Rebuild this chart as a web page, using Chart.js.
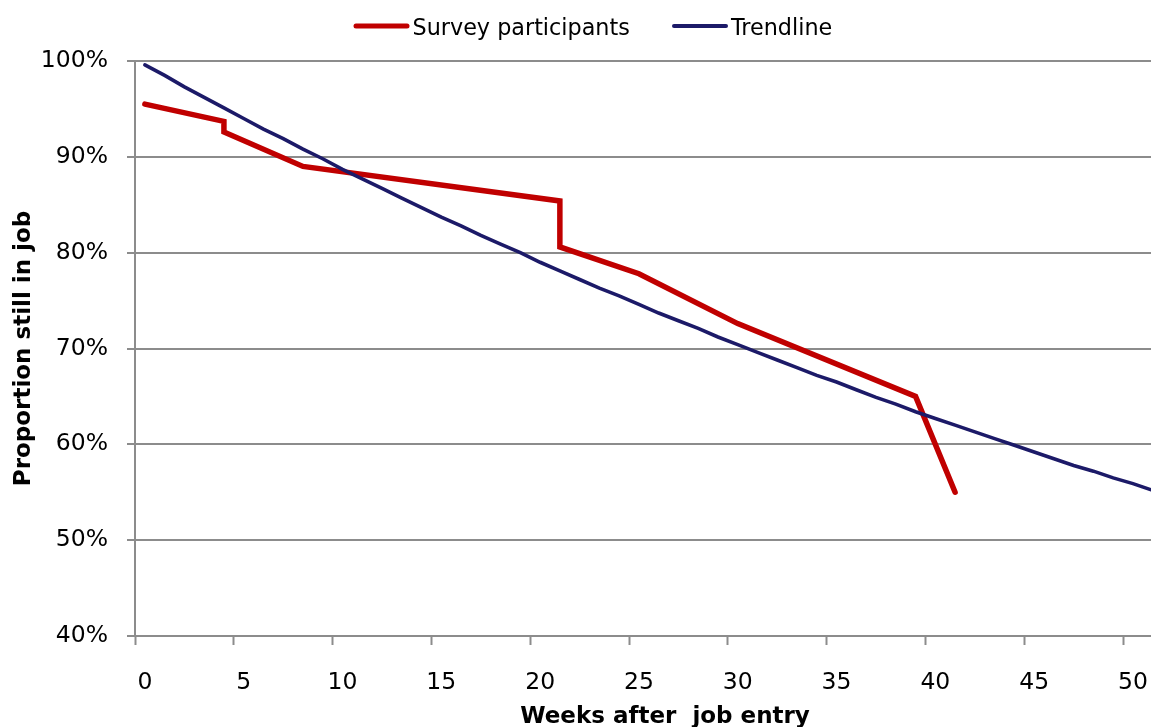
<!DOCTYPE html>
<html>
<head>
<meta charset="utf-8">
<title>Job retention</title>
<script src="https://cdn.jsdelivr.net/npm/chart.js@4/dist/chart.umd.min.js"></script>
<style>
  html, body { margin: 0; padding: 0; background: #fff; overflow: hidden; }
  #wrap { width: 1195px; height: 737px; }
</style>
</head>
<body>
<div id="wrap"><canvas id="c" width="1195" height="737"></canvas></div>
<script>
// Survey participants: weeks after job entry and share still in the job (%)
const surveyWeeks = [0, 4, 4, 8, 21, 21, 25, 30, 39, 41];
const surveyShare = [95.5, 93.7, 92.6, 89.0, 85.4, 80.6, 77.8, 72.6, 65.0, 55.0];

// Fitted trendline, one value per week
const trendWeeks = [0, 1, 2, 3, 4, 5, 6, 7, 8, 9, 10, 11, 12, 13, 14, 15, 16, 17, 18, 19, 20,
  21, 22, 23, 24, 25, 26, 27, 28, 29, 30, 31, 32, 33, 34, 35, 36, 37, 38, 39, 40,
  41, 42, 43, 44, 45, 46, 47, 48, 49, 50, 51, 52, 53];
const trendShare = [99.6, 98.5, 97.3, 96.2, 95.1, 94.0, 92.9, 91.9, 90.8, 89.8, 88.7,
  87.7, 86.7, 85.7, 84.7, 83.7, 82.8, 81.8, 80.9, 80.0, 79.0,
  78.1, 77.2, 76.3, 75.5, 74.6, 73.7, 72.9, 72.1, 71.2, 70.4,
  69.6, 68.8, 68.0, 67.2, 66.5, 65.7, 64.9, 64.2, 63.4, 62.7,
  62.0, 61.3, 60.6, 59.9, 59.2, 58.5, 57.8, 57.2, 56.5, 55.9, 55.2, 54.6, 54.0];

// Axis ticks
const weekLabels = [0, 5, 10, 15, 20, 25, 30, 35, 40, 45, 50];
const shareTicks = [40, 50, 60, 70, 80, 90, 100];

const seriesNames = ['Survey participants', 'Trendline'];
const seriesColors = ['#c00000', '#1c1a68'];

const FONT = "'DejaVu Sans', sans-serif";
const GRID = '#8c8c8c';

const toPoints = (xs, ys) => xs.map((x, i) => ({ x: x, y: ys[i] }));

// Legend drawn as line samples followed by the series names
const lineLegend = {
  id: 'lineLegend',
  afterDraw(chart) {
    const ctx = chart.ctx;
    const items = [
      { x0: 356, x1: 407, tx: 412.5, w: 5 },
      { x0: 674, x1: 726, tx: 731, w: 4 }
    ];
    ctx.save();
    ctx.font = '22.3px ' + FONT;
    ctx.textBaseline = 'alphabetic';
    ctx.textAlign = 'left';
    items.forEach((it, i) => {
      const ds = chart.data.datasets[i];
      ctx.strokeStyle = ds.borderColor;
      ctx.lineWidth = it.w;
      ctx.lineCap = 'round';
      ctx.beginPath();
      ctx.moveTo(it.x0, 26);
      ctx.lineTo(it.x1, 26);
      ctx.stroke();
      ctx.fillStyle = '#000';
      ctx.fillText(ds.label, it.tx, 35);
    });
    ctx.restore();
  }
};

new Chart(document.getElementById('c'), {
  type: 'line',
  data: {
    datasets: [
      {
        label: seriesNames[0],
        data: toPoints(surveyWeeks, surveyShare),
        borderColor: seriesColors[0],
        backgroundColor: seriesColors[0],
        borderWidth: 5.5,
        borderCapStyle: 'round',
        borderJoinStyle: 'miter',
        pointRadius: 0,
        tension: 0,
        order: 1
      },
      {
        label: seriesNames[1],
        data: toPoints(trendWeeks, trendShare),
        borderColor: seriesColors[1],
        backgroundColor: seriesColors[1],
        borderWidth: 3.6,
        borderCapStyle: 'round',
        pointRadius: 0,
        tension: 0,
        order: 0
      }
    ]
  },
  options: {
    responsive: false,
    devicePixelRatio: 1,
    animation: false,
    layout: { padding: { top: 61, right: 0, left: 0, bottom: 0 } },
    plugins: {
      legend: { display: false },
      tooltip: { enabled: false }
    },
    scales: {
      x: {
        type: 'linear',
        min: -0.5,
        max: 53.14,
        afterBuildTicks(scale) {
          // tick marks sit on week boundaries, labels in the middle of the week
          scale.ticks = weekLabels.map(w => ({ value: w - 0.5 }));
        },
        afterFit(scale) { scale.height = 101; },
        ticks: {
          autoSkip: false,
          maxRotation: 0,
          labelOffset: 9.9,
          padding: 24,
          color: '#000',
          font: { family: FONT, size: 23.5 },
          callback: (v) => String(Math.round(v + 0.5))
        },
        grid: {
          display: true,
          drawOnChartArea: false,
          drawTicks: true,
          tickLength: 9,
          tickWidth: 2,
          tickColor: GRID
        },
        border: { display: true, color: GRID, width: 2 },
        title: {
          display: true,
          text: 'Weeks after  job entry',
          color: '#000',
          font: { family: FONT, size: 23, weight: 'bold' },
          padding: { top: 0, bottom: 6 }
        }
      },
      y: {
        type: 'linear',
        min: 40,
        max: 100,
        afterBuildTicks(scale) {
          scale.ticks = shareTicks.map(v => ({ value: v }));
        },
        afterFit(scale) { scale.width = 135; },
        ticks: {
          padding: 19,
          color: '#000',
          font: { family: FONT, size: 23.5 },
          callback: (v) => v + '%'
        },
        grid: {
          color: GRID,
          lineWidth: 2,
          drawTicks: true,
          tickLength: 8,
          tickColor: GRID
        },
        border: { display: true, color: GRID, width: 2 },
        title: {
          display: true,
          text: 'Proportion still in job',
          color: '#000',
          font: { family: FONT, size: 23, weight: 'bold' },
          padding: { top: 10, bottom: 0 }
        }
      }
    }
  },
  plugins: [lineLegend]
});
</script>
</body>
</html>
